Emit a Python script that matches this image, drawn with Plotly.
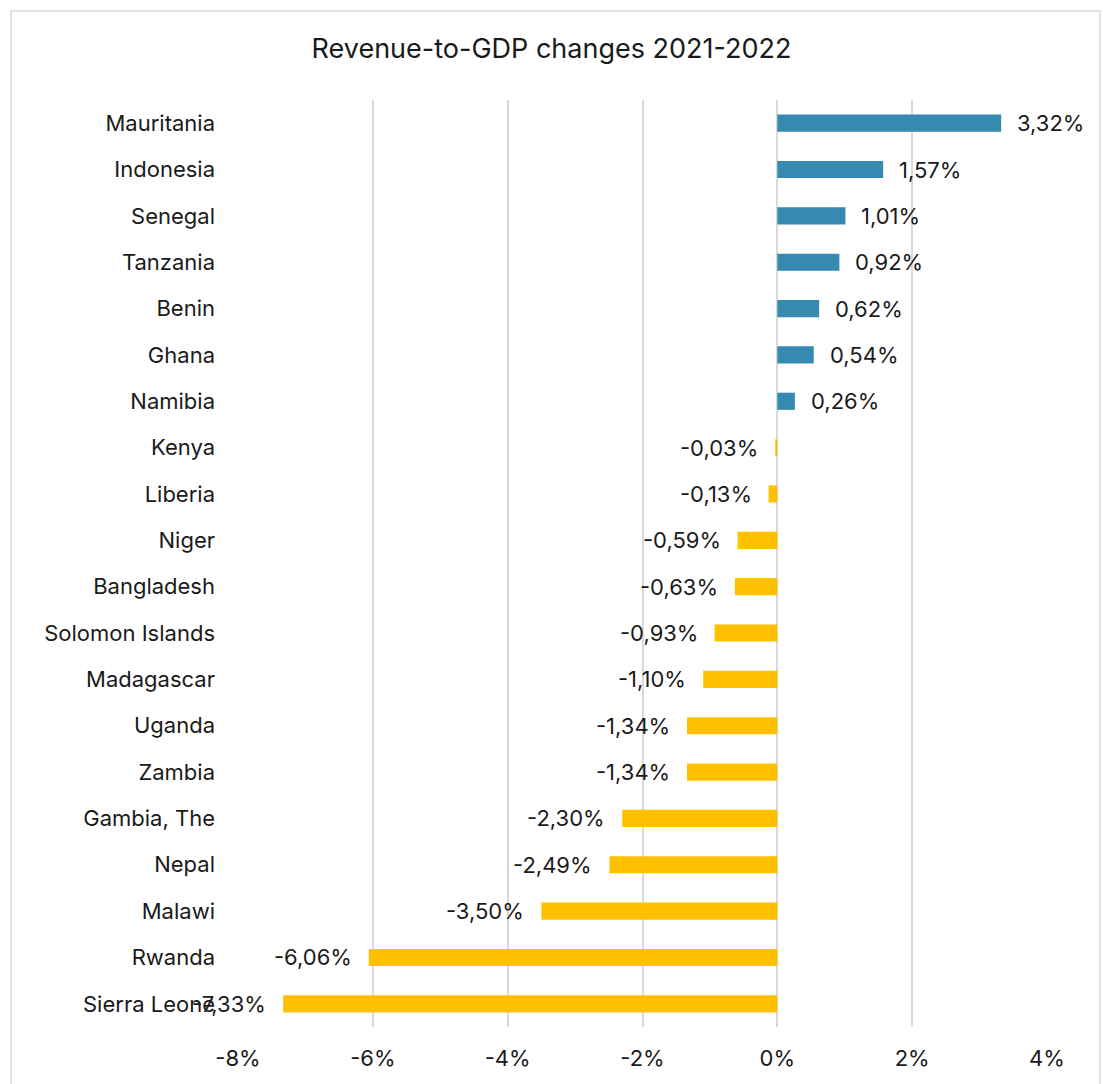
import plotly.graph_objects as go

countries = [
    "Mauritania", "Indonesia", "Senegal", "Tanzania", "Benin", "Ghana", "Namibia",
    "Kenya", "Liberia", "Niger", "Bangladesh", "Solomon Islands", "Madagascar",
    "Uganda", "Zambia", "Gambia, The", "Nepal", "Malawi", "Rwanda", "Sierra Leone",
]
changes = [
    3.32, 1.57, 1.01, 0.92, 0.62, 0.54, 0.26,
    -0.03, -0.13, -0.59, -0.63, -0.93, -1.10,
    -1.34, -1.34, -2.30, -2.49, -3.50, -6.06, -7.33,
]
tick_values = [-8, -6, -4, -2, 0, 2, 4]

BLUE = "#3689AF"
YELLOW = "#FFC000"
FONT = "Inter"
TEXT = "#1a1a1a"

colors = [BLUE if v >= 0 else YELLOW for v in changes]

fig = go.Figure(
    go.Bar(
        x=changes,
        y=countries,
        orientation="h",
        marker=dict(color=colors, line=dict(width=0)),
        hoverinfo="skip",
    )
)

# value labels just beyond each bar end
for c, v in zip(countries, changes):
    label = f"{v:.2f}".replace(".", ",") + "%"
    fig.add_annotation(
        x=v, y=c, xref="x", yref="y",
        text=label, showarrow=False,
        xanchor="left" if v >= 0 else "right",
        xshift=14 if v >= 0 else -15,
        font=dict(family=FONT, size=22, color=TEXT),
    )

# outer chart frame
fig.add_shape(
    type="rect", xref="paper", yref="paper",
    x0=-0.2806, x1=1.0655, y0=-0.08, y1=1.096,
    line=dict(color="#D9D9D9", width=1.5),
    fillcolor="rgba(0,0,0,0)", layer="below",
)

fig.update_layout(
    width=1103, height=1084,
    margin=dict(l=238, r=56, t=100, b=57),
    paper_bgcolor="white", plot_bgcolor="white",
    bargap=0.63,
    showlegend=False,
    title=dict(
        text="Revenue-to-GDP changes 2021-2022",
        x=0.5, xanchor="center", xref="container",
        y=1 - 49 / 1084, yanchor="middle", yref="container",
        font=dict(family=FONT, size=27, color=TEXT),
    ),
    font=dict(family=FONT, size=22, color=TEXT),
)

fig.update_xaxes(
    range=[-8, 4],
    tickvals=tick_values,
    ticktext=[f"{t}%" for t in tick_values],
    showgrid=True, gridcolor="#D9D9D9", gridwidth=1.5,
    zeroline=False, showline=False, ticks="",
    ticklabelstandoff=16,
    tickfont=dict(family=FONT, size=22, color=TEXT),
)
fig.update_yaxes(
    autorange="reversed",
    showgrid=False, zeroline=False, showline=False, ticks="",
    ticklabelstandoff=22,
    tickfont=dict(family=FONT, size=22, color=TEXT),
)

fig.write_html("out.html")
